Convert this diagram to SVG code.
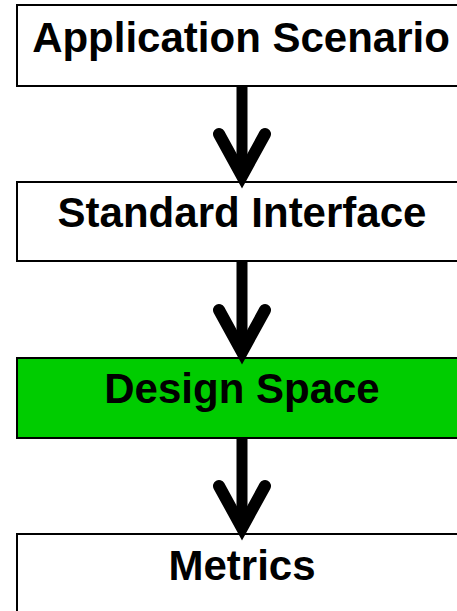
<svg xmlns="http://www.w3.org/2000/svg" width="457" height="611" viewBox="0 0 457 611">
<style>
.box{stroke:#000;stroke-width:2}
.lbl{font-family:"Liberation Sans",Arial,sans-serif;font-weight:bold;font-size:42px;fill:#000;text-anchor:middle}
.shaft{stroke:#000;stroke-width:11;fill:none}
.head{stroke:#000;stroke-width:12;fill:none;stroke-linecap:round;stroke-linejoin:miter}
</style>
<rect width="457" height="611" fill="#fff"/>
<g id="n1"><rect class="box" x="17" y="5" width="450" height="81" fill="#fff"/><text class="lbl" x="241" y="52">Application Scenario</text></g>
<g id="n2"><rect class="box" x="17" y="182" width="450" height="79" fill="#fff"/><text class="lbl" x="242" y="227">Standard Interface</text></g>
<g id="n3"><rect class="box" x="17" y="358" width="450" height="80" fill="#00cc00"/><text class="lbl" x="242" y="403">Design Space</text></g>
<g id="n4"><rect class="box" x="17" y="534" width="450" height="90" fill="#fff"/><text class="lbl" x="242" y="580">Metrics</text></g>
<g id="connectors">
<line class="shaft" x1="242" y1="86" x2="242" y2="172"/><polyline class="head" points="219,134 242,176 265,134"/>
<line class="shaft" x1="242" y1="261" x2="242" y2="349"/><polyline class="head" points="219,310 242,352 265,310"/>
<line class="shaft" x1="242" y1="438" x2="242" y2="525"/><polyline class="head" points="219,486 242,528 265,486"/>
</g>
</svg>
